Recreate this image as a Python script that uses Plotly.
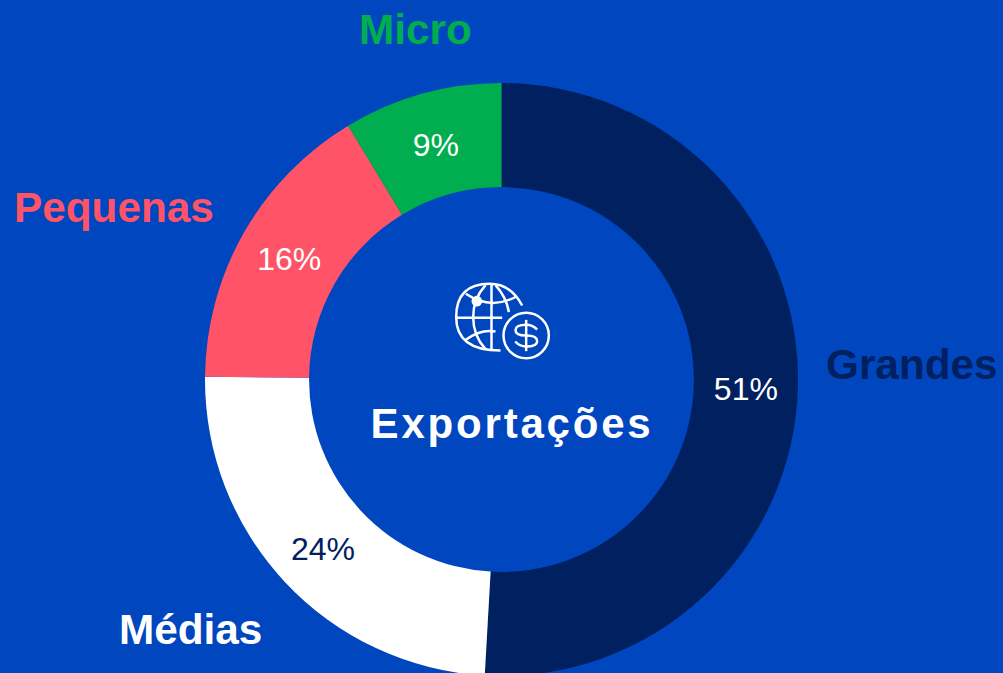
import plotly.graph_objects as go

labels = ["Grandes", "Médias", "Pequenas", "Micro"]
values = [50.9, 24.25, 16.2, 8.65]
colors = ["#002060", "#FFFFFF", "#FF5468", "#00AD4F"]
pct_colors = ["#FFFFFF", "#002060", "#FFFFFF", "#FFFFFF"]
label_x = [912, 190.5, 113.5, 415]
label_y = [364.5, 629.5, 207.5, 29.5]
label_colors = ["#002060", "#FFFFFF", "#FF5468", "#00AD4F"]
center_title = "Exportações"

BG = "#0046BE"
W, H = 1003, 678


def X(px):
    return px / W


def Y(py):
    return 1 - py / H


def zx(z):
    return 430.5 + z / 3


def zy(z):
    return 260.5 + z / 3


def curve(*pts):
    """Quadratic path from points given in zoomed icon coordinates."""
    p = [f"{X(zx(a))},{Y(zy(b))}" for a, b in pts]
    d = "M" + p[0]
    for i in range(1, len(p) - 1, 2):
        d += f" Q{p[i]} {p[i + 1]}"
    return d


line = dict(color="white", width=2.5)
shapes = []
for d in [
    # globe outline, open at lower right
    curve((275, 135), (240, 70), (178, 70), (77, 70), (77, 170), (77, 270), (210, 270)),
    # meridians
    curve((183, 70), (183, 170), (183, 270)),
    curve((165, 74), (128, 115), (128, 170), (128, 225), (165, 266)),
    curve((195, 74), (228, 110), (235, 155)),
    # parallels
    curve((77, 172), (146, 172), (215, 172)),
    curve((106, 100), (180, 150), (258, 108)),
    curve((106, 238), (150, 205), (195, 213)),
    # dollar sign
    curve((287, 178), (287, 225), (287, 272)),
    curve((320, 207), (305, 193), (287, 193), (255, 193), (255, 209),
          (255, 225), (287, 225), (320, 225), (320, 242), (320, 258),
          (287, 258), (268, 258), (254, 243)),
]:
    shapes.append(dict(type="path", xref="paper", yref="paper", path=d, line=line))

# dollar coin
shapes.append(dict(type="circle", xref="paper", yref="paper",
                   x0=X(zx(219)), x1=X(zx(355)), y0=Y(zy(157)), y1=Y(zy(293)),
                   line=line))
# dot on the globe
shapes.append(dict(type="circle", xref="paper", yref="paper",
                   x0=X(zx(123)), x1=X(zx(155)), y0=Y(zy(106)), y1=Y(zy(138)),
                   fillcolor="white", line=dict(width=0)))

annotations = [
    dict(text=t, x=X(x), y=Y(y), xref="paper", yref="paper", showarrow=False,
         xanchor="center", yanchor="middle",
         font=dict(family="Liberation Sans", size=42.3, color=c, weight="bold"))
    for t, x, y, c in zip(labels, label_x, label_y, label_colors)
]
annotations.append(
    dict(text=center_title, x=X(511.5), y=Y(423.5), xref="paper", yref="paper",
         showarrow=False, xanchor="center", yanchor="middle", name="center",
         font=dict(family="Liberation Sans", size=42, color="white", weight="bold"))
)

fig = go.Figure(
    go.Pie(
        labels=labels,
        values=values,
        sort=False,
        direction="clockwise",
        rotation=0,
        hole=0.649,
        marker=dict(colors=colors, line=dict(width=0)),
        textinfo="percent",
        texttemplate="%{percent:.0%}",
        textposition="inside",
        insidetextorientation="horizontal",
        insidetextfont=dict(family="Liberation Sans", size=32, color=pct_colors),
        domain=dict(x=[0, 1], y=[2 / H, 595 / H]),
        showlegend=False,
        hoverinfo="label+percent",
    )
)
fig.update_layout(
    width=W,
    height=H,
    margin=dict(l=0, r=0, t=0, b=0),
    paper_bgcolor=BG,
    plot_bgcolor=BG,
    showlegend=False,
    shapes=shapes,
    annotations=annotations,
)

post = """
document.documentElement.style.overflow='hidden';
document.body.style.margin='0';
document.body.style.overflow='hidden';
document.body.style.background='%s';
document.querySelectorAll('.annotation-text').forEach(function(n){
  if(n.textContent==='%s'){ n.style.letterSpacing='2.8px'; }
});
var dy=[3,2,1,1];
document.querySelectorAll('.slicetext text').forEach(function(n,i){
  n.setAttribute('transform','translate(0,'+dy[i]+') '+(n.getAttribute('transform')||''));
});
""" % (BG, center_title)
fig.write_html("out.html", post_script=post, config=dict(displayModeBar=False))
